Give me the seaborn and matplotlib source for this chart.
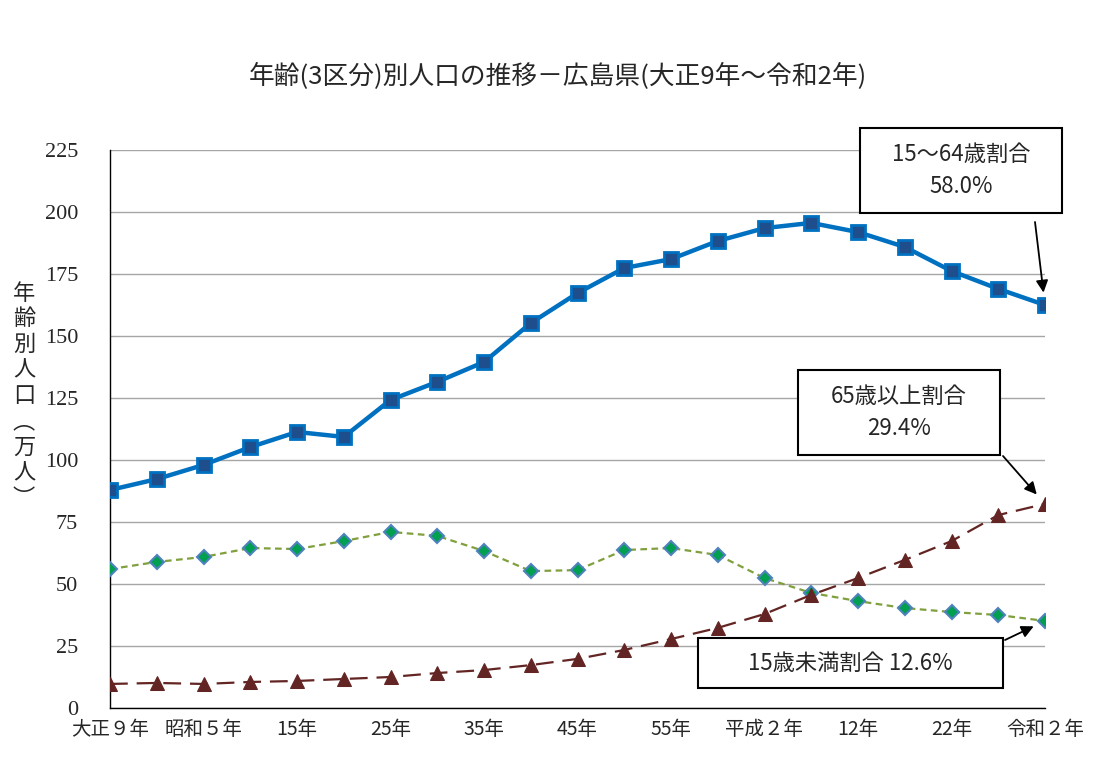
import numpy as np
import pandas as pd
import matplotlib
matplotlib.use("Agg")
import matplotlib.pyplot as plt
from matplotlib.patches import Rectangle
import seaborn as sns

# Data (万人), 1920-2020 every 5 years
years = list(range(1920, 2021, 5))
pop_15_64 = [87.9, 92.3, 98.0, 105.2, 111.3, 109.3, 124.2, 131.5, 139.5, 155.2, 167.3,
             177.4, 181.0, 188.3, 193.5, 195.6, 191.9, 185.9, 176.2, 169.0, 162.5]
pop_under15 = [56.0, 58.9, 60.9, 64.5, 64.1, 67.3, 71.0, 69.4, 63.3, 55.2, 55.6,
               63.7, 64.5, 61.7, 52.4, 46.4, 43.1, 40.3, 38.7, 37.5, 35.1]
pop_65over = [9.7, 10.1, 9.7, 10.5, 10.9, 11.7, 12.5, 14.1, 15.3, 17.3, 19.8,
              23.4, 27.8, 32.3, 37.9, 45.6, 52.4, 59.7, 67.3, 77.8, 82.3]
xlabels = ['大正９年', '昭和５年', '15年', '25年', '35年', '45年', '55年',
           '平成２年', '12年', '22年', '令和２年']

sns.set_style("white")
plt.rcParams['font.family'] = ['Noto Sans CJK JP', 'DejaVu Sans']

W, H = 1110, 771
fig = plt.figure(figsize=(W / 100, H / 100), dpi=100)
ax = fig.add_axes([110 / W, 1 - 708 / H, (1045 - 110) / W, (708 - 150) / H])

idx = np.arange(len(years))
df = pd.DataFrame({'idx': idx, 'a': pop_15_64, 'b': pop_under15, 'c': pop_65over})

sns.lineplot(data=df, x='idx', y='a', ax=ax, color='#0070C0', linewidth=3.2,
             marker='s', markersize=10, markerfacecolor='#1F4E8C',
             markeredgecolor='#0070C0', markeredgewidth=2, zorder=4)
sns.lineplot(data=df, x='idx', y='b', ax=ax, color='#7FA03C', linewidth=1.6,
             linestyle=(0, (3, 2)), marker='D', markersize=7.5,
             markerfacecolor='#00A050', markeredgecolor='#4F81BD',
             markeredgewidth=1.5, zorder=3)
sns.lineplot(data=df, x='idx', y='c', ax=ax, color='#632523', linewidth=1.6,
             linestyle=(0, (8, 4)), marker='^', markersize=10,
             markerfacecolor='#632523', markeredgecolor='#632523', zorder=3)

ax.set_xlim(0, 20)
ax.set_ylim(0, 225)
ax.set_yticks(range(0, 226, 25))
ax.set_xticks(idx)
ax.set_xticklabels([xlabels[i // 2] if i % 2 == 0 else '' for i in idx])
ax.grid(axis='y', color='#A6A6A6', linewidth=1)
ax.set_axisbelow(True)
for s in ['top', 'right']:
    ax.spines[s].set_visible(False)
for s in ['left', 'bottom']:
    ax.spines[s].set_color('black')
    ax.spines[s].set_linewidth(1)
ax.tick_params(axis='x', direction='out', length=6, width=1, color='black',
               labelsize=14, pad=2)
ax.tick_params(axis='y', direction='in', length=5, width=1, color='black',
               labelsize=16, pad=23)
for lab in ax.get_yticklabels():
    lab.set_fontfamily(['Liberation Serif'])
ax.set_xlabel('')
ax.set_ylabel('')

fig.text(558 / W, 1 - 76 / H, '年齢(3区分)別人口の推移－広島県(大正9年～令和2年)',
         ha='center', va='center', fontsize=18.5)

fig.text(24 / W, 1 - 396 / H, '年\n齢\n別\n人\n口\n︵\n万\n人\n︶',
         ha='center', va='center', fontsize=16, linespacing=1.15)


def box(x0, y0, x1, y1, text):
    fig.add_artist(Rectangle((x0, H - y1), x1 - x0, y1 - y0, transform=None,
                             facecolor='white', edgecolor='black', linewidth=1.5,
                             zorder=10))
    fig.text((x0 + x1) / 2 / W, 1 - (y0 + y1) / 2 / H, text, ha='center',
             va='center', fontsize=16, linespacing=1.5, zorder=11)


box(860, 128, 1062, 213, '15～64歳割合\n58.0%')
box(798, 370, 1000, 455, '65歳以上割合\n29.4%')
box(698, 638, 1003, 688, '15歳未満割合 12.6%')

arrow = dict(arrowstyle='-|>', color='black', lw=1.3, shrinkA=0, shrinkB=9,
             mutation_scale=18)
ax.annotate('', xy=(20, pop_15_64[-1]), xytext=(1035, H - 222),
            textcoords='figure pixels', arrowprops=arrow)
ax.annotate('', xy=(20, pop_65over[-1]), xytext=(1003, H - 456),
            textcoords='figure pixels', arrowprops=arrow)
ax.annotate('', xy=(20, pop_under15[-1]), xytext=(1005, H - 640),
            textcoords='figure pixels', arrowprops=arrow)

fig.savefig('out.png', dpi=100)
